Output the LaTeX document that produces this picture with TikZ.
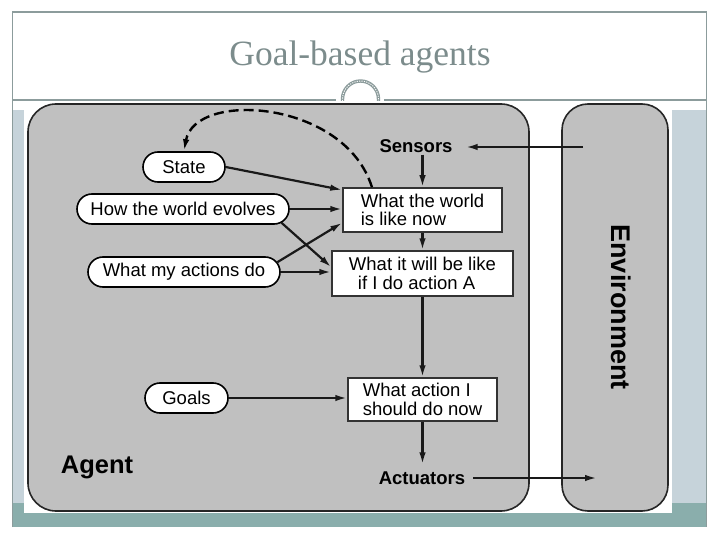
\documentclass[tikz,border=0pt]{standalone}
\usepackage{fontspec}
\setmainfont{Liberation Serif}
\newfontfamily\diagfont{Liberation Sans}
\usetikzlibrary{arrows.meta,shapes.misc,calc}
\definecolor{framegray}{HTML}{8C9C9C}
\definecolor{titlegray}{HTML}{7C8C8C}
\definecolor{tealband}{HTML}{8AAEAC}
\definecolor{lightpanel}{HTML}{C6D3DA}
\definecolor{agentgray}{HTML}{C0C0C0}
\tikzset{
  framelinestyle/.style={draw=framegray, line width=1.2pt},
  panelbox/.style={draw=black!85, line width=1.6pt, fill=agentgray},
  stadium/.style={rounded rectangle, draw=black, line width=1.6pt, fill=white,
    minimum height=30pt, inner sep=0pt, font=\diagfont\fontsize{18.5}{18.5}\selectfont},
  infobox/.style={rectangle, draw=black!80, line width=1.5pt, fill=white,
    inner sep=0pt, align=left, font=\diagfont\fontsize{18.5}{18.5}\selectfont},
  iolabel/.style={font=\diagfont\bfseries\fontsize{18.5}{19}\selectfont, inner sep=0pt},
  flow/.style={draw=black!90, line width=2.2pt, -{Latex[length=12pt,width=6.5pt]}},
  feedback/.style={draw=black, line width=2.4pt, dash pattern=on 10pt off 5pt,
    -{Latex[length=12pt,width=6.5pt]}}
}
\begin{document}
\begin{tikzpicture}[x=1pt,y=-1pt]
\useasboundingbox (0,0) rectangle (720,540);
\fill[white] (0,0) rectangle (720,540);
% slide frame
\fill[lightpanel] (12.7,110) rectangle (24,503);
\fill[lightpanel] (672,110) rectangle (706.7,503);
\fill[tealband] (12.7,503) rectangle (706.7,527);
\draw[framelinestyle] (12.7,527) -- (12.7,12) -- (706.7,12) -- (706.7,527);
\draw[framelinestyle] (12.7,100) -- (336,100);
\draw[framelinestyle] (384,100) -- (706.7,100);
\draw[draw=framegray, line width=3.4pt] (342.5,101) -- (342.5,99) arc[start angle=180, end angle=360, radius=18] -- (378.5,101);
\draw[draw=white, line width=0.9pt, dash pattern=on 1.2pt off 1.2pt] (342.5,101) -- (342.5,99) arc[start angle=180, end angle=360, radius=18] -- (378.5,101);
\node[text=titlegray, font=\fontsize{35.5}{37}\selectfont] (title) at (360,57) {Goal-based agents};
% picture area
\fill[white] (24,102) rectangle (672,513);
\draw[panelbox, rounded corners=28pt] (28,104) rectangle (529,511);
\draw[panelbox, rounded corners=26pt] (562,104) rectangle (668,511);
\node[font=\diagfont\bfseries\fontsize{27}{28}\selectfont, rotate=-90] (env) at (621,307) {Environment};
\node[font=\diagfont\bfseries\fontsize{25.5}{26}\selectfont] (agent) at (97,467) {Agent};
% nodes
\node[stadium, minimum width=82pt] (state) at (184,167) {State};
\node[stadium, minimum width=212pt] (evolve) at (183,209) {How the world evolves};
\node[stadium, minimum width=192pt] (actions) at (184,272) {What my actions do};
\node[stadium, minimum width=83pt] (goals) at (186.5,398) {Goals};
\node[infobox, minimum width=159pt, minimum height=44pt] (now) at (422.5,210) {What the world\\is like now};
\node[infobox, minimum width=181pt, minimum height=45pt] (will) at (422.5,273.5) {What it will be like\\\hspace*{9pt}if I do action A};
\node[infobox, minimum width=149pt, minimum height=43pt] (act) at (422.5,399.5) {What action I\\should do now};
\node[iolabel, inner xsep=13pt, inner ysep=2pt] (sensors) at (416,146) {Sensors};
\node[iolabel, inner xsep=8pt, inner ysep=7pt] (actuators) at (422,478) {Actuators};
\coordinate (envout) at (583,147);
\coordinate (envin) at (597,478);
% connectors
\draw[flow] (envout) -- (envout -| sensors.east);
\draw[flow] (sensors.south -| now.north) -- (now.north);
\draw[flow] (now.south) -- (will.north);
\draw[flow] (will.south) -- (act.north);
\draw[flow] (act.south) -- (act.south |- actuators.north);
\draw[flow] (actuators.east) -- (envin);
\draw[flow] (state.east) -- (now.166);
\draw[flow] (evolve.east) -- (evolve.east -| now.west);
\draw[flow] (evolve.-8) -- (will.176);
\draw[flow] (actions.6) -- (now.189);
\draw[flow] (actions.east) -- (actions.east -| will.west);
\draw[flow] (goals.east) -- (goals.east -| act.west);
\coordinate (loopstart) at ($(now.north west)!0.185!(now.north east)$);
\draw[feedback] (loopstart) .. controls (345,100) and (195,90) .. (state.north);
\end{tikzpicture}
\end{document}
